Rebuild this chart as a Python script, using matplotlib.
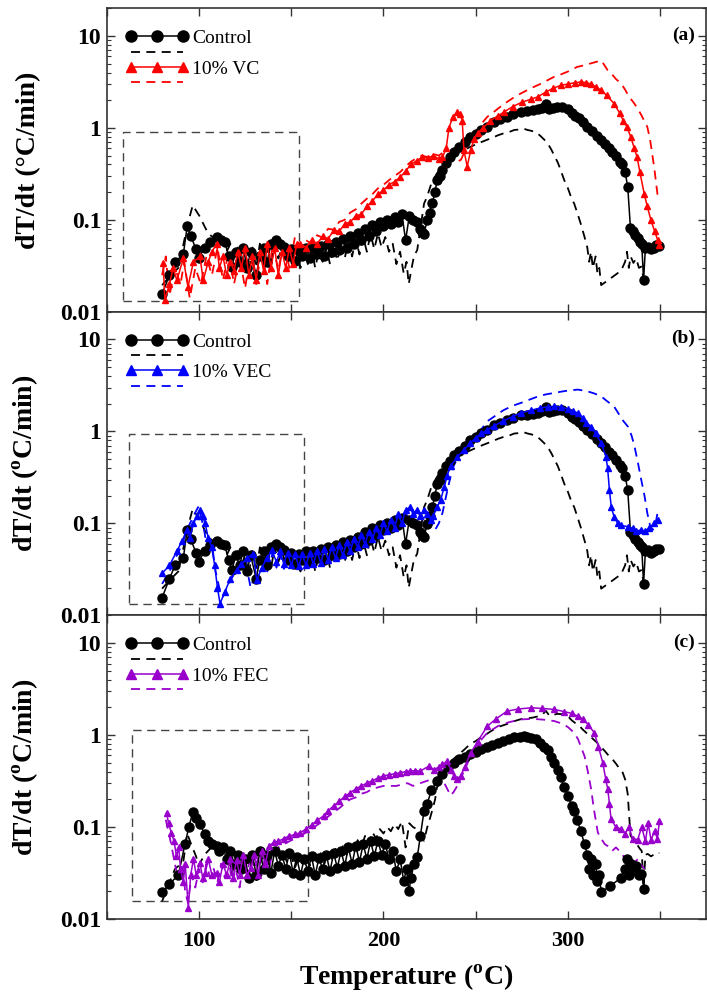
import matplotlib
matplotlib.use('Agg')
import matplotlib.pyplot as plt
from matplotlib.lines import Line2D
from matplotlib.patches import Rectangle
from matplotlib.ticker import FixedLocator, FixedFormatter, LogLocator, NullFormatter

plt.rcParams['font.family'] = ['Liberation Serif', 'DejaVu Serif']
plt.rcParams['mathtext.fontset'] = 'custom'
plt.rcParams['mathtext.rm'] = 'Liberation Serif'
plt.rcParams['mathtext.bf'] = 'Liberation Serif:bold'

# (temperature degC, dT/dt degC/min)
# control run 1 (solid in a/b, dashed in c)
ctrl_a = [(80, 0.0156), (84, 0.025), (87, 0.035), (91.5, 0.042), (93.6, 0.085), (95.5, 0.067),
          (98.4, 0.048), (99.8, 0.038), (103, 0.05), (106, 0.058), (109.6, 0.065), (112, 0.06),
          (114, 0.058), (116, 0.04), (117.8, 0.031), (120, 0.045), (122, 0.035), (124, 0.05),
          (126, 0.03), (128, 0.045), (131, 0.025), (133, 0.04), (135, 0.05), (137, 0.035),
          (139, 0.055), (142, 0.06), (144, 0.055), (146, 0.051), (148, 0.04), (150, 0.048),
          (152, 0.036), (154, 0.046), (156, 0.04), (158, 0.05), (160, 0.038), (162, 0.05),
          (164, 0.042), (166, 0.052), (168, 0.04), (170, 0.055), (172, 0.045), (174, 0.058),
          (176, 0.047), (178, 0.062), (180, 0.05), (182, 0.066), (184, 0.055), (186, 0.072),
          (188, 0.06), (190, 0.08), (192, 0.066), (194, 0.088), (196, 0.075), (198, 0.095),
          (200, 0.085), (202, 0.1), (204, 0.09), (206, 0.108), (208, 0.095), (210, 0.115),
          (212, 0.06), (214, 0.11), (216, 0.1), (218, 0.095), (220, 0.08), (221, 0.074),
          (222, 0.071), (223.7, 0.099), (225, 0.12), (226.4, 0.151), (228, 0.2), (229, 0.27),
          (230.5, 0.3), (232, 0.35), (234, 0.42), (236, 0.48), (238, 0.55), (241, 0.62),
          (244, 0.7), (247, 0.8), (250, 0.86), (253, 0.95), (256, 1.03), (260, 1.16),
          (263, 1.24), (267, 1.32), (270, 1.4), (274.5, 1.49), (278, 1.52), (281, 1.55),
          (284, 1.6), (286, 1.65), (288, 1.84), (290, 1.62), (292, 1.65), (294, 1.7),
          (297, 1.69), (300, 1.6), (302, 1.45), (304, 1.35), (306, 1.27), (308, 1.15),
          (310.6, 1.03), (313, 0.93), (316, 0.82), (318, 0.74), (320, 0.67), (322, 0.6),
          (324, 0.55), (326, 0.49), (328, 0.43), (329.5, 0.4), (331, 0.33), (332.4, 0.23),
          (333.9, 0.081), (335, 0.075), (336.5, 0.068), (337.8, 0.063), (339, 0.058),
          (340, 0.055), (341, 0.022), (342, 0.05), (343.3, 0.051), (345, 0.048),
          (346.5, 0.05), (348, 0.053), (349.5, 0.052)]

# control run 2 (dashed in a/b, solid with circles in c)
ctrl_b = [(80, 0.0195), (84, 0.024), (88.8, 0.030), (92.4, 0.065), (94.5, 0.1), (96.6, 0.144),
          (98.5, 0.125), (100.5, 0.108), (103, 0.085), (105, 0.071), (107, 0.066), (109.6, 0.062),
          (111, 0.055), (113, 0.06), (115, 0.045), (117, 0.055), (119, 0.04), (121, 0.05),
          (123, 0.035), (125, 0.045), (127, 0.028), (129, 0.05), (131, 0.03), (133, 0.055),
          (135, 0.035), (137, 0.05), (139, 0.032), (141, 0.055), (143, 0.038), (145, 0.05),
          (147, 0.035), (149, 0.052), (151, 0.032), (153, 0.047), (155, 0.03), (157, 0.045),
          (159, 0.033), (161, 0.048), (163, 0.03), (165, 0.046), (167, 0.035), (169, 0.05),
          (171, 0.033), (173, 0.052), (175, 0.036), (177, 0.055), (179, 0.038), (181, 0.06),
          (183, 0.04), (185, 0.062), (187, 0.042), (189, 0.065), (191, 0.045), (193, 0.07),
          (195, 0.048), (197, 0.071), (199, 0.05), (201, 0.065), (203, 0.045), (205, 0.055),
          (207, 0.033), (209, 0.045), (211, 0.026), (212.5, 0.035), (213.7, 0.02), (215, 0.028),
          (216.5, 0.04), (218.3, 0.047), (220, 0.08), (222, 0.15), (223.7, 0.18), (226, 0.25),
          (229, 0.32), (232, 0.38), (235, 0.45), (238, 0.5), (241, 0.55), (244, 0.58),
          (247, 0.62), (250, 0.66), (253, 0.7), (256, 0.74), (259, 0.78), (262, 0.83),
          (265, 0.87), (268, 0.9), (271, 0.95), (274, 0.96), (276, 0.98), (278, 0.95),
          (280, 0.93), (282.6, 0.9), (285, 0.82), (287, 0.75), (289, 0.68), (291, 0.58),
          (292.6, 0.5), (294.5, 0.42), (296, 0.35), (298, 0.27), (300, 0.22), (302, 0.17),
          (303.4, 0.15), (305, 0.12), (307, 0.09), (309, 0.065), (310.5, 0.05), (311.5, 0.035),
          (312.5, 0.045), (313.5, 0.03), (315, 0.04), (316, 0.026), (317, 0.03), (318, 0.0195),
          (323, 0.023), (328.8, 0.028), (331, 0.035), (332, 0.045), (333, 0.03), (334, 0.04),
          (335.5, 0.034), (337, 0.038), (338.5, 0.03), (339.7, 0.031), (341.5, 0.021)]

vc_solid = [(80.6, 0.034), (81.5, 0.0134), (84, 0.02), (86, 0.03), (88, 0.022), (91.5, 0.038),
            (94, 0.0187), (97, 0.035), (100.5, 0.04), (102.3, 0.022), (105, 0.035), (107, 0.045),
            (109.6, 0.055), (111, 0.03), (113, 0.04), (115, 0.025), (117, 0.035), (119, 0.028),
            (121, 0.045), (123, 0.03), (125, 0.05), (127, 0.025), (129, 0.04), (131, 0.022),
            (133, 0.045), (135, 0.028), (137, 0.055), (139, 0.03), (141, 0.05), (143, 0.025),
            (145, 0.045), (147, 0.03), (149, 0.05), (151, 0.033), (153, 0.055), (155, 0.055),
            (158, 0.05), (161, 0.06), (164, 0.055), (167, 0.066), (170, 0.062), (173, 0.077),
            (176, 0.075), (179, 0.09), (182, 0.095), (185, 0.11), (188, 0.115), (191, 0.14),
            (194, 0.16), (197, 0.19), (200, 0.21), (203, 0.24), (206, 0.26), (209, 0.29),
            (212, 0.34), (215, 0.4), (218, 0.44), (221, 0.48), (224, 0.47), (227, 0.5),
            (230, 0.46), (232, 0.48), (234, 0.6), (235.5, 1.0), (237.5, 1.3), (240, 1.49),
            (241.5, 1.4), (242.7, 1.2), (243.6, 0.57), (245.4, 0.38), (247.3, 0.57), (249, 0.75),
            (251, 0.87), (254, 1.0), (258, 1.2), (262, 1.35), (265.4, 1.49), (270, 1.7),
            (275, 1.9), (280, 2.05), (283.5, 2.17), (288, 2.45), (292, 2.7), (296.2, 2.9),
            (300, 3.0), (304, 3.1), (307, 3.16), (310, 3.1), (312.5, 3.0), (315, 2.8),
            (318, 2.57), (321, 2.25), (325, 1.84), (328, 1.45), (330, 1.2), (332, 1.03),
            (334, 0.8), (336, 0.6), (337.5, 0.48), (339, 0.33), (341.4, 0.19), (343, 0.14),
            (345, 0.099), (347, 0.075), (348.7, 0.06), (349.5, 0.053)]

vc_dash = [(80, 0.025), (82, 0.04), (84, 0.015), (87, 0.03), (90, 0.02), (92, 0.035), (95, 0.014),
           (98, 0.03), (101, 0.02), (104, 0.04), (107, 0.025), (110, 0.05), (113, 0.022),
           (116, 0.045), (119, 0.02), (122, 0.04), (125, 0.018), (128, 0.045), (131, 0.02),
           (134, 0.05), (137, 0.02), (140, 0.055), (143, 0.028), (146, 0.06), (149, 0.03),
           (152, 0.065), (155, 0.05), (158, 0.06), (161, 0.055), (164, 0.068), (167, 0.064),
           (170, 0.08), (173, 0.078), (176, 0.095), (179, 0.1), (182, 0.12), (185, 0.13),
           (188, 0.15), (191, 0.17), (194, 0.19), (197, 0.22), (200, 0.24), (203, 0.27),
           (206, 0.3), (209, 0.33), (212, 0.38), (215, 0.43), (218, 0.47), (221, 0.5),
           (224, 0.48), (227, 0.52), (230, 0.5), (233, 0.55), (236, 0.5), (239, 0.42),
           (242, 0.45), (244, 0.55), (247, 0.75), (250, 0.9), (253, 1.1), (256.3, 1.32),
           (260, 1.5), (265, 1.8), (270, 2.1), (274.5, 2.37), (280, 2.7), (285, 3.0),
           (289, 3.3), (292.5, 3.59), (296, 3.8), (300, 4.1), (305, 4.6), (309, 4.8),
           (312, 5.0), (315, 5.2), (318, 5.4), (319.5, 4.9), (321.5, 4.24), (324, 3.8),
           (326, 3.4), (328.8, 3.04), (331, 2.6), (333, 2.2), (336, 1.84), (338, 1.6),
           (340, 1.35), (343, 1.03), (344.5, 0.75), (345.5, 0.55), (346.7, 0.38),
           (347.7, 0.26), (348.7, 0.178), (350.5, 0.17)]

vec_solid = [(80, 0.0286), (84, 0.035), (88, 0.05), (91, 0.065), (93.3, 0.085), (95, 0.07),
             (97, 0.1), (99, 0.12), (100.5, 0.14), (102, 0.12), (103.3, 0.1), (105, 0.07),
             (106.8, 0.056), (108.5, 0.035), (110, 0.02), (111.4, 0.0134), (114, 0.018),
             (117, 0.025), (120.4, 0.031), (123, 0.036), (126, 0.042), (129.5, 0.047),
             (131.3, 0.024), (134, 0.033), (137, 0.042), (139.5, 0.051), (142, 0.038),
             (144, 0.05), (146, 0.036), (148, 0.048), (150, 0.035), (152, 0.047), (154, 0.034),
             (156, 0.046), (158, 0.035), (160, 0.048), (162, 0.036), (164, 0.05), (166, 0.037),
             (168, 0.052), (170, 0.04), (172, 0.055), (174, 0.042), (176, 0.058), (178, 0.045),
             (180, 0.062), (182, 0.05), (184, 0.068), (186, 0.055), (188, 0.074), (190, 0.06),
             (192, 0.08), (194, 0.068), (196, 0.088), (198, 0.074), (200, 0.1), (202, 0.082),
             (204, 0.11), (206, 0.09), (208, 0.125), (210, 0.1), (212, 0.14), (214.6, 0.15),
             (216, 0.125), (218, 0.14), (220, 0.12), (222, 0.14), (223.7, 0.128), (225.5, 0.11),
             (227, 0.12), (229, 0.15), (231, 0.18), (233, 0.25), (234.5, 0.33), (236.4, 0.42),
             (240, 0.53), (243.6, 0.63), (247, 0.75), (250, 0.85), (253, 0.95), (256.3, 1.04),
             (260, 1.15), (265, 1.3), (270, 1.45), (274.5, 1.59), (280, 1.7), (285, 1.8),
             (289, 1.85), (292.6, 1.87), (296, 1.85), (300, 1.75), (303, 1.65), (305.3, 1.59),
             (308, 1.4), (310, 1.25), (312.5, 1.13), (315, 0.95), (318, 0.75), (320.6, 0.53),
             (321.5, 0.4), (322.5, 0.23), (323.5, 0.15), (325, 0.118), (327, 0.1), (329, 0.095),
             (332.5, 0.092), (335, 0.088), (337, 0.082), (339.7, 0.085), (342, 0.082),
             (344, 0.09), (346.8, 0.1), (348.7, 0.11)]

vec_dash = [(80, 0.022), (84, 0.03), (88, 0.045), (91, 0.06), (94, 0.09), (97, 0.12), (99.5, 0.15),
            (101.5, 0.11), (103, 0.08), (105, 0.045), (107, 0.06), (109, 0.03), (111, 0.02),
            (113, 0.016), (116, 0.022), (119, 0.028), (122, 0.035), (125, 0.04), (128, 0.02),
            (131, 0.03), (134, 0.045), (137, 0.03), (140, 0.048), (142, 0.033), (144, 0.046),
            (146, 0.032), (148, 0.045), (150, 0.033), (152, 0.046), (154, 0.034), (156, 0.047),
            (158, 0.036), (160, 0.05), (162, 0.038), (164, 0.052), (166, 0.04), (168, 0.055),
            (170, 0.043), (172, 0.058), (174, 0.046), (176, 0.062), (178, 0.05), (180, 0.067),
            (182, 0.054), (184, 0.072), (186, 0.058), (188, 0.078), (190, 0.064), (192, 0.085),
            (194, 0.07), (196, 0.092), (198, 0.078), (200, 0.1), (202, 0.085), (204, 0.11),
            (206, 0.095), (208, 0.12), (210, 0.1), (212, 0.13), (214, 0.11), (216, 0.14),
            (218, 0.115), (220, 0.13), (222, 0.11), (224, 0.12), (226, 0.1), (228, 0.085),
            (230, 0.1), (232, 0.13), (234, 0.2), (236, 0.3), (238, 0.42), (241, 0.55),
            (244, 0.68), (247, 0.8), (250, 0.92), (253, 1.05), (256.3, 1.29), (260, 1.45),
            (265, 1.7), (270, 1.9), (274.5, 2.04), (280, 2.25), (285, 2.45), (289, 2.55),
            (292.6, 2.62), (296, 2.7), (300, 2.78), (305.3, 2.85), (310, 2.75), (314, 2.6),
            (318, 2.41), (321, 2.15), (325, 1.87), (328, 1.5), (330, 1.3), (332.5, 1.13),
            (334.5, 0.9), (336, 0.7), (338, 0.45), (340, 0.28), (341.5, 0.2), (343, 0.13),
            (344.5, 0.095), (346, 0.085), (347.5, 0.1), (348.7, 0.134)]

fec_solid = [(82.4, 0.143), (83.5, 0.11), (85, 0.087), (86.5, 0.07), (87.8, 0.048), (89, 0.06),
             (90, 0.035), (91.5, 0.025), (92.5, 0.04), (94.2, 0.0133), (95.5, 0.03), (97, 0.045),
             (98.5, 0.03), (100.5, 0.041), (102, 0.028), (103.5, 0.032), (105, 0.045), (107, 0.03),
             (109.6, 0.032), (111, 0.025), (113, 0.04), (115, 0.03), (117, 0.045), (118.5, 0.028),
             (120.4, 0.044), (122, 0.03), (124, 0.05), (126, 0.03), (128, 0.036), (130, 0.05),
             (132, 0.03), (134, 0.055), (136, 0.04), (138, 0.062), (140.4, 0.068), (143, 0.07),
             (146, 0.075), (149, 0.08), (152, 0.083), (155, 0.087), (158, 0.095), (161, 0.105),
             (164, 0.118), (167.5, 0.132), (170, 0.15), (173, 0.17), (176, 0.19), (179, 0.215),
             (182, 0.236), (185, 0.26), (188, 0.28), (191, 0.3), (194, 0.32), (197, 0.34),
             (200, 0.36), (203, 0.37), (206, 0.38), (209, 0.39), (212, 0.4), (214.6, 0.406),
             (217, 0.41), (220, 0.406), (224.6, 0.46), (227.3, 0.42), (230, 0.45), (232, 0.48),
             (234.6, 0.52), (236.4, 0.42), (238.2, 0.36), (240, 0.33), (241.8, 0.36), (244, 0.45),
             (247.3, 0.64), (251, 0.85), (256.3, 1.25), (261, 1.5), (267, 1.82), (273, 1.92),
             (280, 1.98), (286, 1.95), (292.6, 1.9), (298, 1.8), (302, 1.72), (305.3, 1.61),
             (308, 1.5), (311, 1.3), (314.3, 1.06), (316.5, 0.75), (318.9, 0.5), (320.5, 0.33),
             (321.6, 0.257), (322.5, 0.18), (323.4, 0.121), (326, 0.1), (328.8, 0.095),
             (331, 0.085), (333, 0.1), (335, 0.075), (337.8, 0.073), (340, 0.1), (342, 0.07),
             (343.5, 0.11), (345, 0.073), (347, 0.09), (348.5, 0.075), (349.6, 0.116)]

fec_dash = [(82, 0.12), (84, 0.08), (86, 0.05), (87.5, 0.035), (89, 0.028), (91, 0.04), (92.5, 0.02),
            (94, 0.015), (96, 0.03), (98, 0.022), (100, 0.035), (102, 0.025), (104, 0.04),
            (106, 0.028), (108, 0.035), (110, 0.025), (112, 0.04), (114, 0.028), (116, 0.045),
            (118, 0.025), (120, 0.035), (122, 0.022), (124, 0.04), (126, 0.03), (128, 0.05),
            (130, 0.035), (132, 0.045), (134, 0.03), (136, 0.05), (138, 0.035), (140, 0.055),
            (143, 0.06), (146, 0.065), (149, 0.07), (152, 0.075), (155, 0.08), (158, 0.087),
            (161, 0.095), (164, 0.105), (167, 0.115), (170, 0.13), (173, 0.145), (176, 0.16),
            (179, 0.18), (182, 0.2), (185, 0.21), (188, 0.23), (191, 0.24), (194, 0.26),
            (197, 0.27), (200, 0.28), (203, 0.28), (207, 0.28), (210, 0.29), (213, 0.3),
            (216, 0.28), (220, 0.3), (224, 0.32), (228, 0.34), (231, 0.36), (233, 0.3),
            (235, 0.25), (236.4, 0.22), (238, 0.24), (240, 0.28), (243, 0.38), (247.3, 0.59),
            (251, 0.8), (256.3, 1.06), (262, 1.25), (268, 1.38), (274.5, 1.48), (281, 1.5),
            (287, 1.47), (292.6, 1.42), (297, 1.33), (300, 1.22), (303.4, 1.06), (305.5, 0.9),
            (307, 0.75), (309, 0.59), (310.8, 0.4), (312.6, 0.257), (314, 0.16), (316.2, 0.087),
            (318, 0.075), (320, 0.065), (321.6, 0.062), (324, 0.055), (326, 0.06), (328.8, 0.053),
            (331, 0.045), (333, 0.05), (336, 0.041), (338, 0.045), (340, 0.038), (341.5, 0.035)]

# dashed boxes (T_min, T_max, y_min, y_max)
box_a = (59, 154, 0.0132, 0.90)
box_b = (62, 157, 0.0132, 0.94)
box_c = (63.5, 159, 0.0158, 1.13)

RED = '#ff0000'
BLUE = '#0000ff'
PURPLE = '#9900cc'
DASH = (0, (5, 3.5))

fig = plt.figure(figsize=(7.07, 9.92), dpi=100)
bottoms = [0.6857, 0.3797, 0.0736]
axes = [fig.add_axes([0.151, b, 0.848, 0.306]) for b in bottoms]


def draw(ax, pairs, color, ls, marker):
    T = [p[0] for p in pairs]
    v = [p[1] for p in pairs]
    if marker == 'o':
        ax.plot(T, v, color=color, lw=1.1, ls=ls, marker='o', ms=6.5, mec=color, mfc=color)
    elif marker == '^':
        ax.plot(T, v, color=color, lw=1.1, ls=ls, marker='^', ms=4.5, mec=color, mfc=color)
    else:
        ax.plot(T, v, color=color, lw=1.3, ls=ls)


setups = [
    ('(a)', RED, '10% VC', vc_solid, vc_dash, box_a, 'dT/dt (°C/min)'),
    ('(b)', BLUE, '10% VEC', vec_solid, vec_dash, box_b, r'dT/dt ($^{\mathbf{o}}$C/min)'),
    ('(c)', PURPLE, '10% FEC', fec_solid, fec_dash, box_c, r'dT/dt ($^{\mathbf{o}}$C/min)'),
]

for i, (ax, (tag, col, name, s_solid, s_dash, box, ylab)) in enumerate(zip(axes, setups)):
    if i < 2:
        draw(ax, ctrl_b, 'k', DASH, None)
        draw(ax, s_dash, col, DASH, None)
        draw(ax, ctrl_a, 'k', '-', 'o')
        draw(ax, s_solid, col, '-', '^')
    else:
        draw(ax, ctrl_a, 'k', DASH, None)
        draw(ax, s_dash, col, DASH, None)
        draw(ax, ctrl_b, 'k', '-', 'o')
        draw(ax, s_solid, col, '-', '^')

    ax.add_patch(Rectangle((box[0], box[2]), box[1] - box[0], box[3] - box[2],
                           fill=False, ec='#444444', lw=1.0, ls=(0, (6, 4))))

    ax.set_yscale('log')
    ax.set_ylim(0.01, 20)
    ax.set_xlim(50, 375)
    ax.xaxis.set_major_locator(FixedLocator([50, 100, 150, 200, 250, 300, 350]))
    ax.xaxis.set_major_formatter(FixedFormatter(['', '100', '', '200', '', '300', '']))
    ax.yaxis.set_major_locator(FixedLocator([0.01, 0.1, 1, 10]))
    ax.yaxis.set_major_formatter(FixedFormatter(['0.01', '0.1', '1', '10']))
    ax.yaxis.set_minor_locator(LogLocator(base=10, subs=range(2, 10)))
    ax.yaxis.set_minor_formatter(NullFormatter())
    ax.tick_params(which='both', direction='in', top=True, right=True, color='#333333')
    ax.tick_params(which='major', length=6, width=1.0)
    ax.tick_params(which='minor', length=3, width=0.8)
    ax.tick_params(axis='y', labelsize=17, pad=4)
    ax.tick_params(axis='x', labelsize=16, pad=9)
    for lab in ax.get_xticklabels() + ax.get_yticklabels():
        lab.set_fontweight('bold')
    for sp in ax.spines.values():
        sp.set_color('#333333')
        sp.set_linewidth(1.2)
    if i < 2:
        ax.tick_params(axis='x', labelbottom=False)

    ax.set_ylabel(ylab, fontsize=20, fontweight='bold')
    ax.yaxis.set_label_coords(-0.11, 0.5)

    ax.text(0.962, 0.911, tag, transform=ax.transAxes, ha='center', va='center',
            fontsize=14, fontweight='bold')

    handles = [
        Line2D([], [], color='k', lw=1.1, marker='o', ms=8),
        Line2D([], [], color='k', lw=1.3, ls=DASH),
        Line2D([], [], color=col, lw=1.1, marker='^', ms=7),
        Line2D([], [], color=col, lw=1.3, ls=DASH),
    ]
    ax.legend(handles, ['Control', ' ', name, ' '], loc='upper left',
              bbox_to_anchor=(0.008, 0.975), frameon=False, numpoints=3,
              handlelength=3.3, handletextpad=0.15, labelspacing=-0.12,
              borderpad=0.2, prop={'family': 'Liberation Serif', 'size': 14})

axes[2].set_xlabel(r'Temperature ($^{\mathbf{o}}$C)', fontsize=20, fontweight='bold', labelpad=8)

fig.savefig('out.png', dpi=100)
